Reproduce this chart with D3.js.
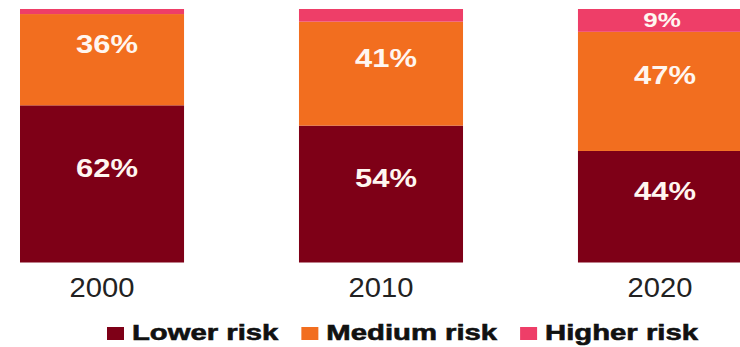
<!DOCTYPE html>
<html>
<head>
<meta charset="utf-8">
<script src="https://cdn.jsdelivr.net/npm/d3@7"></script>
<style>
  html, body { margin: 0; padding: 0; background: #fff; }
  svg { display: block; }
  text { font-family: "Liberation Sans", Arial, Helvetica, sans-serif; }
</style>
</head>
<body>
<svg id="chart" width="740" height="347"></svg>
<script>
// Share of assets by risk tier, per year (percent)
const years = ["2000", "2010", "2020"];
const seriesNames = ["Lower risk", "Medium risk", "Higher risk"];
const lowerRisk = [62, 54, 44];
const mediumRisk = [36, 41, 47];
const higherRisk = [2, 5, 9];

const colors = ["#7e0017", "#f26e1f", "#ee3e68"];

const rows = years.map((y, i) => ({
  year: y,
  "Lower risk": lowerRisk[i],
  "Medium risk": mediumRisk[i],
  "Higher risk": higherRisk[i]
}));

const svg = d3.select("#chart");

const x = d3.scaleBand()
  .domain(years)
  .range([20, 742])
  .paddingInner(0.412)
  .paddingOuter(0);

const y = d3.scaleLinear()
  .domain([0, 100])
  .range([262.5, 9]);

const color = d3.scaleOrdinal().domain(seriesNames).range(colors);

const stacked = d3.stack().keys(seriesNames)(rows);

// stretch a text element horizontally by a factor; returns the new width
function widen(sel, factor) {
  let last = 0;
  sel.each(function () {
    const w = this.getComputedTextLength() * factor;
    d3.select(this)
      .attr("textLength", w)
      .attr("lengthAdjust", "spacingAndGlyphs");
    last = w;
  });
  return last;
}

const layers = svg.append("g").selectAll("g")
  .data(stacked)
  .join("g")
  .attr("fill", d => color(d.key));

layers.selectAll("rect")
  .data(d => d)
  .join("rect")
  .attr("x", d => x(d.data.year))
  .attr("width", x.bandwidth())
  .attr("y", d => y(d[1]))
  .attr("height", d => y(d[0]) - y(d[1]));

// value labels inside segments
const labels = [];
stacked.forEach(layer => {
  layer.forEach(d => {
    const v = d[1] - d[0];
    if (v >= 8) labels.push({ year: d.data.year, v, y0: d[0], y1: d[1] });
  });
});
const isSmall = d => (y(d.y0) - y(d.y1)) < 40;

const lab = svg.append("g").selectAll("text")
  .data(labels)
  .join("text")
  .attr("text-anchor", "middle")
  .attr("fill", "#fff6f0")
  .attr("font-weight", "bold")
  .attr("font-size", d => isSmall(d) ? 20 : 26)
  .attr("x", d => x(d.year) + x.bandwidth() / 2 + (isSmall(d) ? 2 : 5))
  .attr("y", d => {
    const mid = (y(d.y0) + y(d.y1)) / 2;
    return isSmall(d) ? mid + 7 : mid - 7;
  })
  .text(d => d.v + "%");
widen(lab.filter(d => !isSmall(d)), 1.19);
widen(lab.filter(isSmall), 1.3);

// year axis
const axis = svg.append("g")
  .attr("transform", "translate(0,262.5)")
  .call(d3.axisBottom(x).tickSize(0).tickPadding(0));
axis.select(".domain").remove();
const yearText = axis.selectAll("text")
  .attr("font-size", 27)
  .attr("fill", "#222")
  .attr("dy", null)
  .attr("y", 34.5);
widen(yearText, 1.08);

// legend
const legend = svg.append("g");
let lx = 107;
seriesNames.forEach(name => {
  legend.append("rect")
    .attr("x", lx).attr("y", 327)
    .attr("width", 17).attr("height", 13)
    .attr("fill", color(name));
  const t = legend.append("text")
    .attr("x", lx + 25).attr("y", 340)
    .attr("font-size", 22)
    .attr("font-weight", "bold")
    .attr("fill", "#111")
    .attr("stroke", "#111")
    .attr("stroke-width", 0.6)
    .text(name);
  const w = widen(t, 1.33);
  lx += 25 + w + 23;
});
</script>
</body>
</html>
